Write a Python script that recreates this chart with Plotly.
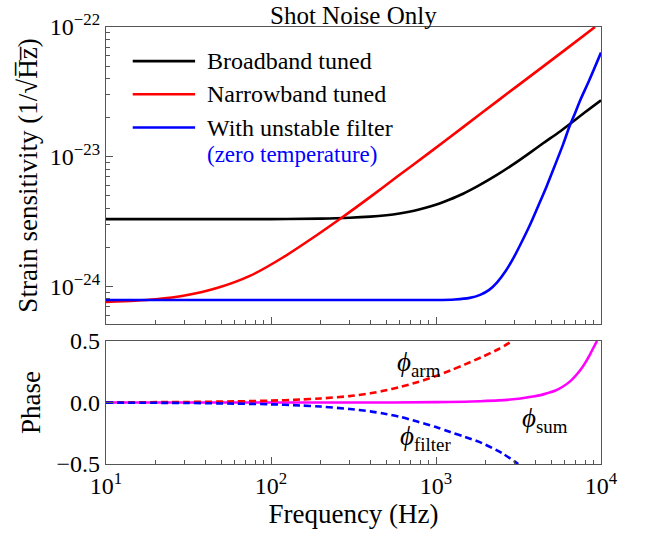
import plotly.graph_objects as go
from plotly.subplots import make_subplots

# ---- data ----
f_broad = [10, 100, 200, 300, 400, 500, 600, 700, 800, 920, 1050, 1200, 1460, 1800, 2340, 3000, 3720,
           4500, 5500, 6450, 8000, 10000]
h_broad = [3.3e-24, 3.3e-24, 3.33e-24, 3.38e-24, 3.45e-24, 3.54e-24, 3.65e-24, 3.78e-24, 3.93e-24,
           4.13e-24, 4.36e-24, 4.65e-24, 5.18e-24, 5.95e-24, 7.23e-24, 8.88e-24, 1.075e-23, 1.28e-23,
           1.53e-23, 1.78e-23, 2.2e-23, 2.72e-23]

f_narrow = [10, 15, 20, 30, 47, 75, 118, 190, 268, 400, 580, 900, 1460, 2440, 4000, 6000, 9200]
h_narrow = [7.6e-25, 7.75e-25, 7.95e-25, 8.5e-25, 9.7e-25, 1.21e-24, 1.67e-24, 2.49e-24, 3.38e-24,
            4.9e-24, 7.0e-24, 1.06e-23, 1.69e-23, 2.78e-23, 4.47e-23, 6.6e-23, 1.0e-22]

f_filter = [10, 1000, 1300, 1600, 1850, 2100, 2340, 2650, 2950, 3300, 3720, 4200, 4680, 5300, 5900,
            6430, 7000, 7460, 8500, 10000]
h_filter = [7.85e-25, 7.85e-25, 7.93e-25, 8.15e-25, 8.6e-25, 9.4e-25, 1.07e-24, 1.32e-24, 1.66e-24,
            2.19e-24, 3.0e-24, 4.28e-24, 5.9e-24, 8.8e-24, 1.25e-23, 1.7e-23, 2.2e-23, 2.7e-23,
            3.9e-23, 6.35e-23]

f_arm = [10, 30, 60, 100, 150, 200, 300, 400, 480, 600, 770, 1000, 1220, 1500, 1900, 2400, 2900]
phi_arm = [0.001, 0.004, 0.009, 0.015, 0.024, 0.033, 0.052, 0.075, 0.095, 0.125, 0.165, 0.215, 0.26,
           0.31, 0.37, 0.435, 0.5]

f_filt = [10, 30, 60, 100, 150, 200, 300, 400, 480, 600, 770, 1000, 1220, 1500, 1900, 2500, 3150]
phi_filt = [-0.001, -0.004, -0.009, -0.015, -0.024, -0.033, -0.053, -0.072, -0.09, -0.115, -0.155,
            -0.2, -0.24, -0.28, -0.33, -0.41, -0.5]

f_sum = [10, 500, 1000, 1500, 1850, 2400, 2930, 3400, 3870, 4300, 4710, 5300, 5890, 6600, 7460, 8000,
         8570, 9000, 9460]
phi_sum = [0.0, 0.0, 0.003, 0.006, 0.01, 0.017, 0.026, 0.036, 0.048, 0.06, 0.075, 0.098, 0.13, 0.18,
           0.26, 0.32, 0.39, 0.445, 0.5]

x_tick_vals = [10, 100, 1000, 10000]
x_tick_text = ["10<sup>1</sup>", "10<sup>2</sup>", "10<sup>3</sup>", "10<sup>4</sup>"]
y_tick_vals = [1e-24, 1e-23, 1e-22]
y_tick_text = ["10<sup>\u221224</sup>", "10<sup>\u221223</sup>", "10<sup>\u221222</sup>"]
p_tick_vals = [-0.5, 0.0, 0.5]
p_tick_text = ["\u22120.5", "0.0", "0.5"]

legend_names = ["Broadband tuned", "Narrowband tuned", "With unstable filter"]
legend_colors = ["black", "#FF0000", "#0000FF"]

FONT = "Liberation Serif, Times New Roman, serif"
FRAME = "#555555"

fig = make_subplots(rows=2, cols=1, shared_xaxes=False)

W = 2.6
fig.add_trace(go.Scatter(x=f_broad, y=h_broad, mode="lines",
                         line=dict(color="black", width=W, shape="spline", smoothing=0.8),
                         showlegend=False), row=1, col=1)
fig.add_trace(go.Scatter(x=f_narrow, y=h_narrow, mode="lines",
                         line=dict(color="#FF0000", width=W, shape="spline", smoothing=0.8),
                         showlegend=False), row=1, col=1)
fig.add_trace(go.Scatter(x=f_filter, y=h_filter, mode="lines",
                         line=dict(color="#0000FF", width=W, shape="spline", smoothing=0.8),
                         showlegend=False), row=1, col=1)

fig.add_trace(go.Scatter(x=f_sum, y=phi_sum, mode="lines",
                         line=dict(color="#FF00FF", width=W, shape="spline", smoothing=0.8),
                         showlegend=False), row=2, col=1)
fig.add_trace(go.Scatter(x=f_arm, y=phi_arm, mode="lines",
                         line=dict(color="#FF0000", width=W, dash="7px,4px", shape="spline", smoothing=0.8),
                         showlegend=False), row=2, col=1)
fig.add_trace(go.Scatter(x=f_filt, y=phi_filt, mode="lines",
                         line=dict(color="#0000FF", width=W, dash="7px,4px", shape="spline", smoothing=0.8),
                         showlegend=False), row=2, col=1)

minor_x = [m * 10 ** e for e in (1, 2, 3) for m in range(2, 10)]
minor_y = [m * 10.0 ** e for e in (-25, -24, -23) for m in range(2, 10)]

axis_common = dict(showline=True, linecolor=FRAME, linewidth=1.2, mirror=True, automargin=False,
                   ticks="inside", tickcolor=FRAME, showgrid=False, zeroline=False,
                   tickfont=dict(family=FONT, size=24, color="black"))

fig.update_xaxes(type="log", range=[1, 4], tickmode="array", tickvals=x_tick_vals, ticktext=x_tick_text,
                 ticklen=7, minor=dict(tickmode="array", tickvals=minor_x, ticks="inside", ticklen=4,
                                       tickcolor=FRAME, showgrid=False),
                 **axis_common)
fig.update_xaxes(showticklabels=False, row=1, col=1)
fig.update_xaxes(title=dict(text="Frequency (Hz)", font=dict(family=FONT, size=27, color="black"), standoff=2),
                 row=2, col=1)

fig.update_yaxes(type="log", range=[-24.29, -22.0], tickmode="array", tickvals=y_tick_vals, ticktext=y_tick_text,
                 ticklen=7, domain=[0.3204, 1.0],
                 minor=dict(tickmode="array", tickvals=minor_y, ticks="inside", ticklen=4,
                            tickcolor=FRAME, showgrid=False),
                 title=dict(text="Strain sensitivity (1/\u221aH\u0305z\u0305)",
                            font=dict(family=FONT, size=27, color="black"), standoff=4),
                 row=1, col=1, **axis_common)
fig.update_yaxes(range=[-0.5, 0.5], tickmode="array", tickvals=p_tick_vals, ticktext=p_tick_text, ticklen=7,
                 domain=[0.0, 0.2815],
                 title=dict(text="Phase", font=dict(family=FONT, size=27, color="black"), standoff=8),
                 row=2, col=1, **axis_common)

annotations = []
# title
annotations.append(dict(text="Shot Noise Only", x=0.5, y=1.0, xref="paper", yref="paper", xanchor="center",
                        yanchor="bottom", yshift=-4, showarrow=False,
                        font=dict(family=FONT, size=25, color="black")))
# legend (manual, Mathematica-style)
shapes = []
leg_rows_y = [0.922, 0.846, 0.770]
for name, col, ly in zip(legend_names, legend_colors, leg_rows_y):
    shapes.append(dict(type="line", xref="x domain", yref="paper", x0=0.054, x1=0.18, y0=ly, y1=ly,
                       line=dict(color=col, width=W)))
    annotations.append(dict(text=name, xref="x domain", yref="paper", x=0.2, y=ly, xanchor="left",
                            yanchor="middle", showarrow=False, font=dict(family=FONT, size=24, color="black")))
annotations.append(dict(text="(zero temperature)", xref="x domain", yref="paper", x=0.2, y=0.708,
                        xanchor="left", yanchor="middle", showarrow=False,
                        font=dict(family=FONT, size=23, color="#0000FF")))
# phase labels
for txt, lx, ly in [("<i>\u03d5</i><sub>arm</sub>", 2.75, 0.31),
                    ("<i>\u03d5</i><sub>filter</sub>", 2.77, -0.29),
                    ("<i>\u03d5</i><sub>sum</sub>", 3.51, -0.14)]:
    annotations.append(dict(text=txt, x=lx, y=ly, xref="x2", yref="y2", xanchor="left", yanchor="middle",
                            showarrow=False, font=dict(family=FONT, size=27, color="black")))

fig.update_layout(width=649, height=533, margin=dict(l=106, r=48, t=27, b=69, autoexpand=False),
                  paper_bgcolor="white", plot_bgcolor="white",
                  font=dict(family=FONT, size=24, color="black"),
                  annotations=annotations, shapes=shapes, showlegend=False)

fig.write_html("out.html", config={"displayModeBar": False},
               post_script="document.body.style.margin='0';document.body.style.overflow='hidden';")
